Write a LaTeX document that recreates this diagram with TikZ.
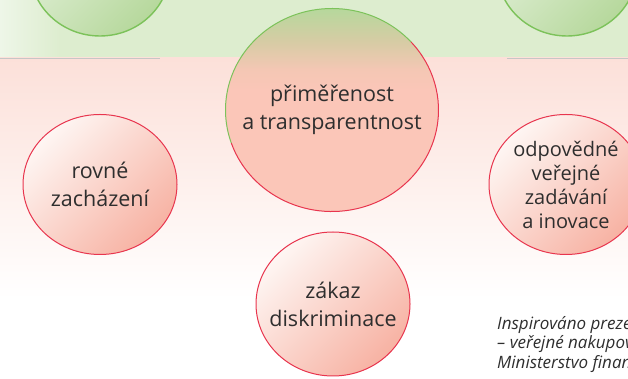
\documentclass[tikz,border=0pt]{standalone}
\usepackage{fontspec}
\setmainfont{Open Sans}
\usetikzlibrary{shapes.geometric}
\definecolor{bandgreen}{HTML}{DDEDCF}
\definecolor{bandgreenlight}{HTML}{EEF6E8}
\definecolor{bandpink}{HTML}{FCE0D9}
\definecolor{ballgreen}{HTML}{B6D89C}
\definecolor{ballgreenlight}{HTML}{E6F2DE}
\definecolor{ballred}{HTML}{F7B2A3}
\definecolor{ballredlight}{HTML}{FEF6F3}
\definecolor{rimred}{HTML}{E8354E}
\definecolor{rimgreen}{HTML}{7CC25A}
\definecolor{bigsalmon}{HTML}{FBC6B8}
\definecolor{bigtan}{HTML}{D6CCA4}
\definecolor{bigpeach}{HTML}{F4C7B4}
\definecolor{textgray}{HTML}{2E2E2E}
\pgfdeclareverticalshading{bigfade}{100bp}{color(0bp)=(bigsalmon); color(25bp)=(bigsalmon);
    color(55bp)=(bigsalmon); color(60bp)=(bigpeach); color(67bp)=(bigtan);
    color(75bp)=(ballgreen); color(100bp)=(ballgreen)}

\begin{document}
\begin{tikzpicture}[x=1pt, y=1pt,
    greenball/.style={ellipse, draw=rimgreen, line width=1.4pt, left color=ballgreenlight,
        right color=ballgreen, shading angle=45, minimum width=140, minimum height=134, inner sep=0pt},
    redball/.style={ellipse, draw=rimred, line width=1pt, left color=ballredlight,
        right color=ballred, shading angle=45, minimum width=154, minimum height=140,
        inner xsep=-20pt, inner ysep=0pt, align=center, text=textgray,
        font=\fontsize{21.5}{28}\selectfont},
    bigtext/.style={align=center, text=textgray, font=\fontsize{21.5}{28}\selectfont},
    credit/.style={align=left, text=textgray, font=\fontsize{17}{19.5}\selectfont\itshape, inner sep=0pt}]
    \useasboundingbox (0,0) rectangle (628,379);
    \clip (0,0) rectangle (628,379);

    \fill[bandgreen] (0,321) rectangle (628,379);
    \shade[left color=bandgreenlight, right color=bandgreen] (0,321) rectangle (60,379);
    \shade[top color=bandpink, bottom color=white] (0,80) rectangle (628,321);
    \draw[gray!45, line width=0.8pt] (0,321) -- (160,321);
    \draw[gray!45, line width=0.8pt] (507,321) -- (628,321);

    \foreach \x/\name in {100/gleft, 567/gright}
        \node[greenball] (\name) at (\x,410) {};

    \coordinate (mid) at (332,269);
    \shade[shading=bigfade] (mid) ellipse [x radius=106.5, y radius=101.5];
    \draw[rimgreen, line width=1pt] (mid) ++(42:106.5 and 101.5)
        arc[start angle=42, end angle=199, x radius=106.5, y radius=101.5];
    \draw[rimred, line width=1pt] (mid) ++(199:106.5 and 101.5)
        arc[start angle=199, end angle=402, x radius=106.5, y radius=101.5];
    \node[bigtext] (primerenost) at (mid) {přiměřenost\\a transparentnost};

    \node[redball] (rovne) at (100,194.5) {rovné\\zacházení};
    \node[redball, font=\fontsize{20}{24}\selectfont] (odpovedne) at (566,194.5)
        {odpovědné\\veřejné\\zadávání\\a inovace};
    \node[redball, minimum height=144] (zakaz) at (333,75) {zákaz\\diskriminace};

    \node[credit, anchor=north west] (zdroj) at (497,63)
        {Inspirováno prezentací\\– veřejné nakupování\\Ministerstvo financí};
\end{tikzpicture}
\end{document}
